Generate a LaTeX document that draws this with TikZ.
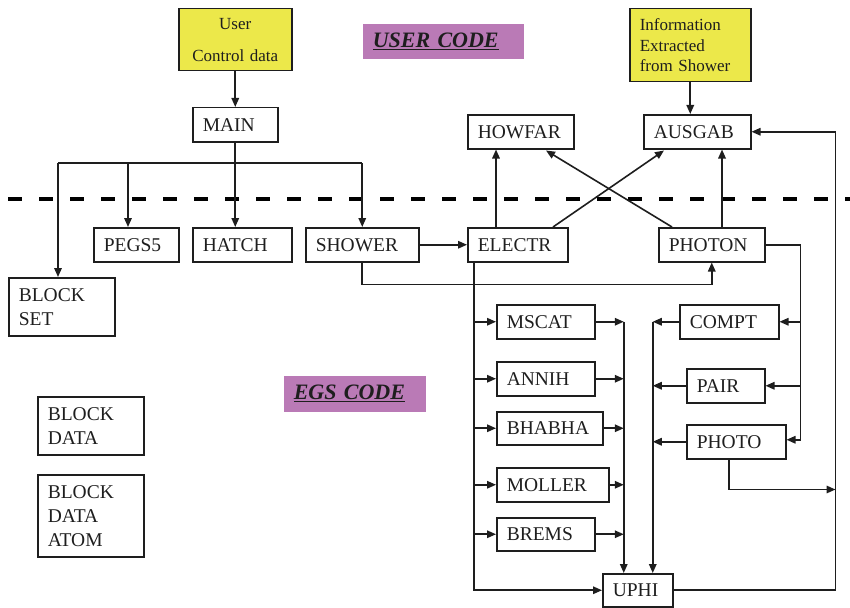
\documentclass[tikz,border=0pt]{standalone}
\usepackage{fontspec}
\setmainfont{Liberation Serif}
\usetikzlibrary{arrows.meta,calc}
\definecolor{ylw}{RGB}{236,232,74}
\definecolor{prp}{RGB}{186,122,182}
\definecolor{ink}{RGB}{30,30,30}
\newcommand\mybox[7][]{%
  \pgfmathsetmacro\mytw{#5-#3-20}%
  \pgfmathsetmacro\myhh{#6-#4}%
  \node[bx,#1,text width=\mytw pt,minimum height=\myhh pt] (#2) at (#3,#4) {#7};}
\begin{document}
\begin{tikzpicture}[x=1pt,y=-1pt,
  bx/.style={draw=ink, line width=1.5pt, anchor=north west, inner xsep=10pt, inner ysep=0pt,
    align=left, font=\fontsize{19.5}{24}\selectfont, text=ink},
  ylwbox/.style={fill=ylw, font=\fontsize{17}{20.7}\selectfont},
  prpbox/.style={draw=none, fill=prp, font=\fontsize{22}{24}\selectfont\bfseries\itshape},
  con/.style={line width=1.6pt, draw=ink},
  arr/.style={con, -{Triangle[length=9pt,width=7.5pt]}},
]
\useasboundingbox (0,0) rectangle (850,607);
% labels
\mybox[prpbox]{ucode}{362}{23}{523}{58}{\underline{USER CODE}}
\mybox[prpbox]{ecode}{283}{375}{425}{411}{\underline{EGS CODE}}
% boxes
\mybox[ylwbox,align=center]{user}{178}{8}{291}{70}{User\\[11pt]Control data}
\mybox[ylwbox]{info}{629}{8}{750}{81}{Information\\Extracted\\from Shower}
\mybox{main}{192}{107}{277}{141}{MAIN}
\mybox{howfar}{467}{114}{573}{148}{HOWFAR}
\mybox{ausgab}{643}{114}{750}{148}{AUSGAB}
\mybox{pegs}{93}{227}{178}{261}{PEGS5}
\mybox{hatch}{192}{227}{291}{261}{HATCH}
\mybox{showr}{305}{227}{418}{261}{SHOWER}
\mybox{electr}{467}{227}{567}{261}{ELECTR}
\mybox{photon}{658}{227}{764}{261}{PHOTON}
\mybox{bset}{8}{277}{114}{335}{BLOCK\\SET}
\mybox{mscat}{496}{304}{594}{338}{MSCAT}
\mybox{compt}{679}{304}{778}{338}{COMPT}
\mybox{annih}{496}{361}{594}{395}{ANNIH}
\mybox{pair}{686}{368}{764}{402}{PAIR}
\mybox{bhabha}{496}{411}{602}{444}{BHABHA}
\mybox{photo}{686}{424}{785}{458}{PHOTO}
\mybox{moller}{496}{467}{608}{501}{MOLLER}
\mybox{brems}{496}{517}{594}{550}{BREMS}
\mybox{uphi}{602}{573}{672}{606}{UPHI}
\mybox{bdata}{37}{396}{143}{454}{BLOCK\\DATA}
\mybox{bdatom}{37}{474}{143}{556}{BLOCK\\DATA\\ATOM}
% dashed separator
\draw[line width=4.5pt, dash pattern=on 14pt off 17pt, draw=black] (8,199) -- (850,199);
% user -> main
\draw[arr] (user.south) -- (main.north);
% main bus
\coordinate (bl) at (58,163);
\coordinate (bp) at (128,163);
\draw[con] (main.south) -- (main.south |- bl);
\draw[con] (bl) -- (bl -| showr.north);
\draw[arr] (bl) -- (bl |- bset.north);
\draw[arr] (bp) -- (bp |- pegs.north);
\draw[arr] (main.south |- bl) -- (main.south |- hatch.north);
\draw[arr] (bl -| showr.north) -- (showr.north);
% shower
\draw[arr] (showr.east) -- (electr.west);
\draw[arr] (showr.south) -- ++(0,22) -| (photon.south);
% electr / photon to howfar / ausgab
\draw[arr] ($(electr.north west)+(29,0)$) coordinate (eu) -- (eu |- howfar.south);
\draw[arr] ($(electr.north west)+(86,0)$) -- ($(ausgab.south west)+(21,1)$);
\draw[arr] ($(photon.north west)+(14,0)$) -- ($(howfar.south west)+(79,1)$);
\draw[arr] ($(photon.north west)+(64,0)$) coordinate (pu) -- (pu |- ausgab.south);
\draw[arr] (info.south) -- (info.south |- ausgab.north);
% photon to its processes
\coordinate (pr) at ($(photo.east)+(14,-2)$);
\draw[arr] (photon.east) -| (pr) -- (pr -| photo.east);
\draw[arr] (compt.east -| pr) -- (compt.east);
\draw[arr] (pair.east -| pr) -- (pair.east);
% photon processes to uphi
\coordinate (cl) at ($(uphi.north)+(15,0)$);
\draw[arr] (compt.west) -- (compt.west -| cl);
\draw[arr] (compt.west -| cl) -- (cl);
\draw[arr] (pair.west) -- (pair.west -| cl);
\draw[arr] (photo.west) -- (photo.west -| cl);
% electron processes
\coordinate (ed) at ($(electr.south west)+(7,0)$);
\draw[arr] (ed) |- (uphi.west);
\draw[arr] (mscat.west -| ed) -- (mscat.west);
\draw[arr] (annih.west -| ed) -- (annih.west);
\draw[arr] (bhabha.west -| ed) -- (bhabha.west);
\draw[arr] (moller.west -| ed) -- (moller.west);
\draw[arr] (brems.west -| ed) -- (brems.west);
\coordinate (el) at ($(uphi.north)+(-14,0)$);
\draw[arr] (mscat.east) -- (mscat.east -| el);
\draw[arr] (mscat.east -| el) -- (el);
\draw[arr] (annih.east) -- (annih.east -| el);
\draw[arr] (bhabha.east) -- (bhabha.east -| el);
\draw[arr] (moller.east) -- (moller.east -| el);
\draw[arr] (brems.east) -- (brems.east -| el);
% uphi back to ausgab
\coordinate (rr) at ($(uphi.east)+(162,0)$);
\draw[arr] (uphi.east) -- (rr) |- (ausgab.east);
\draw[arr] ($(photo.south west)+(43,0)$) -- ++(0,30) coordinate (pc) -- (pc -| rr);
\end{tikzpicture}
\end{document}
